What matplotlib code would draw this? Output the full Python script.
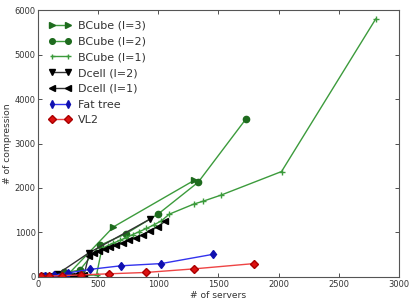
import matplotlib
matplotlib.use("Agg")
import matplotlib.pyplot as plt

# BCube (l=3)
bc3_x = [16, 81, 256, 625, 1296]
bc3_y = [5, 20, 80, 1125, 2170]
# BCube (l=2)
bc2_x = [8, 27, 64, 125, 216, 343, 512, 729, 1000, 1331, 1728]
bc2_y = [3, 8, 15, 30, 100, 150, 710, 970, 1420, 2130, 3550]
# BCube (l=1)
bc1_x = [4, 16, 36, 64, 100, 144, 196, 256, 324, 400, 484, 529, 576, 625, 676,
         729, 784, 841, 900, 961, 1024, 1089, 1296, 1369, 1521, 2025, 2809]
bc1_y = [2, 4, 6, 8, 10, 14, 18, 22, 28, 35, 45, 640, 700, 760, 820,
         880, 950, 1020, 1090, 1170, 1260, 1410, 1640, 1700, 1840, 2370, 5800]
# Dcell (l=2)
dc2_x = [42, 156, 420, 930]
dc2_y = [10, 60, 540, 1300]
# Dcell (l=1)
dc1_x = [6, 12, 20, 30, 42, 56, 72, 90, 110, 132, 156, 182, 210, 240, 272, 306,
         342, 380, 420, 462, 506, 552, 600, 650, 702, 756, 812, 870, 930, 992, 1056]
dc1_y = [2, 3, 4, 5, 6, 8, 10, 12, 14, 16, 18, 20, 22, 25, 28, 32,
         36, 40, 480, 530, 575, 620, 665, 710, 760, 820, 880, 950, 1030, 1130, 1250]
# Fat tree
ft_x = [16, 54, 128, 250, 432, 686, 1024, 1458]
ft_y = [5, 15, 40, 90, 170, 250, 300, 510]
# VL2
vl2_x = [20, 92, 200, 356, 587, 895, 1292, 1797]
vl2_y = [10, 20, 30, 45, 70, 100, 180, 300]

fig = plt.figure(figsize=(4.15, 3.07), dpi=100, facecolor='white')
ax = fig.add_axes([0.0925, 0.098, 0.868, 0.869])

lc = '#3c9b3c'
dk = '#1e6b1e'
ax.plot(bc3_x, bc3_y, '-', color=lc, lw=1, marker='>', ms=4.5,
        mfc=dk, mec=dk, label='BCube (l=3)')
ax.plot(bc2_x, bc2_y, '-', color=lc, lw=1, marker='o', ms=4.5,
        mfc=dk, mec=dk, label='BCube (l=2)')
ax.plot(bc1_x, bc1_y, '-', color=lc, lw=1, marker='+', ms=4,
        mfc=lc, mec=lc, label='BCube (l=1)')
ax.plot(dc2_x, dc2_y, '-', color='#333333', lw=1, marker='v', ms=4.5,
        mfc='black', mec='black', label='Dcell (l=2)')
ax.plot(dc1_x, dc1_y, '-', color='#333333', lw=1, marker='<', ms=4.5,
        mfc='black', mec='black', label='Dcell (l=1)')
ax.plot(ft_x, ft_y, '-', color='#3333ee', lw=1, marker='d', ms=4.5,
        mfc='#1010b0', mec='#1010b0', label='Fat tree')
ax.plot(vl2_x, vl2_y, '-', color='#ee4444', lw=1, marker='D', ms=4.5,
        mfc='#dd1111', mec='#aa0000', label='VL2')

ax.set_xlim(0, 3000)
ax.set_ylim(0, 6000)
ax.set_xticks([0, 500, 1000, 1500, 2000, 2500, 3000])
ax.set_yticks([0, 1000, 2000, 3000, 4000, 5000, 6000])
ax.tick_params(direction='in', top=True, right=True, labelsize=6,
               length=3, width=0.6, colors='#333333', pad=2)
for s in ax.spines.values():
    s.set_color('#555555')
    s.set_linewidth(0.8)
ax.set_xlabel('# of servers', fontsize=6.6, color='#333333', labelpad=2)
ax.set_ylabel('# of compression', fontsize=6.6, color='#333333', labelpad=2)

leg = ax.legend(loc='upper left', fontsize=8, frameon=False, numpoints=2,
                handlelength=2.0, handletextpad=0.6, labelspacing=0.52,
                borderaxespad=0.55, markerscale=0.9)
for t in leg.get_texts():
    t.set_color('#333333')

fig.savefig('out.png', dpi=100, facecolor='white')
